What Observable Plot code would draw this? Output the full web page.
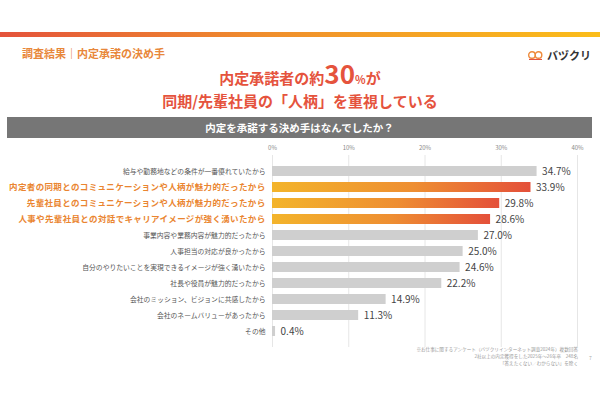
<!DOCTYPE html>
<html lang="ja">
<head>
<meta charset="utf-8">
<script src="https://cdn.jsdelivr.net/npm/d3@7"></script>
<script src="https://cdn.jsdelivr.net/npm/@observablehq/plot@0.6"></script>
<style>
  html, body { margin: 0; padding: 0; background: #fff; }
  body { width: 600px; height: 400px; overflow: hidden; font-family: "Noto Sans CJK JP", "Noto Sans", sans-serif; }
  #page { position: relative; width: 600px; height: 400px; }
  .abs { position: absolute; white-space: nowrap; }
  #topbar { left: 0; top: 32px; width: 600px; height: 5px; background: linear-gradient(90deg, #e4533b, #f08f2c 45%, #fbbd1a); }
  #section { left: 22px; top: 45px; font-size: 11px; font-weight: bold; color: #e8873a; }
  #logo { left: 527px; top: 47px; font-size: 11px; font-weight: bold; color: #333; display: flex; align-items: center; gap: 3px; }
  #title { left: 0; width: 600px; top: 63px; text-align: center; color: #e5533d; font-weight: bold; font-size: 15px; line-height: 22px; }
  #title .big { font-size: 26px; line-height: 20px; }
  #title .pct { font-size: 11px; }
  #banner { left: 7px; top: 117px; width: 585px; height: 21px; background: #767676; color: #fff; font-size: 10.5px; font-weight: bold; text-align: center; line-height: 21px; }
  #chart { left: 0; top: 138px; }
  #foot { right: 22px; top: 346px; text-align: right; font-size: 4.6px; line-height: 6.8px; color: #999; }
  #pageno { left: 589px; top: 354px; font-size: 5px; color: #aaa; }
</style>
</head>
<body>
<div id="page">
  <div id="topbar" class="abs"></div>
  <div id="section" class="abs"></div>
  <div id="logo" class="abs">
    <svg width="17" height="9" viewBox="0 0 17 9"><circle cx="5" cy="4" r="3.3" fill="none" stroke="#ee8a3a" stroke-width="1.4"/><circle cx="11.5" cy="4" r="3.3" fill="none" stroke="#ee8a3a" stroke-width="1.4"/><path d="M2 8.5 L15 8.5" stroke="#e5533d" stroke-width="1.2"/></svg>
    <span id="logotext"></span>
  </div>
  <div id="title" class="abs"></div>
  <div id="banner" class="abs"></div>
  <div id="chart" class="abs"></div>
  <div id="foot" class="abs"></div>
  <div id="pageno" class="abs">7</div>
</div>
<script>
// ---- data ----
const sectionTitle = "調査結果｜内定承諾の決め手";
const logoText = "バヅクリ";
const titleLine1 = ["内定承諾者の約", "30", "%", "が"];
const titleLine2 = "同期/先輩社員の「人柄」を重視している";
const question = "内定を承諾する決め手はなんでしたか？";
const labels = [
  "給与や勤務地などの条件が一番優れていたから",
  "内定者の同期とのコミュニケーションや人柄が魅力的だったから",
  "先輩社員とのコミュニケーションや人柄が魅力的だったから",
  "人事や先輩社員との対話でキャリアイメージが強く湧いたから",
  "事業内容や業務内容が魅力的だったから",
  "人事担当の対応が良かったから",
  "自分のやりたいことを実現できるイメージが強く湧いたから",
  "社長や役員が魅力的だったから",
  "会社のミッション、ビジョンに共感したから",
  "会社のネームバリューがあったから",
  "その他"
];
const values = [34.7, 33.9, 29.8, 28.6, 27.0, 25.0, 24.6, 22.2, 14.9, 11.3, 0.4];
const highlighted = [false, true, true, true, false, false, false, false, false, false, false];
const xTicks = [0, 10, 20, 30, 40];
const footnotes = [
  "※お仕事に関するアンケート（バヅクリインターネット調査2024年）複数回答",
  "2社以上の内定獲得をした2025年〜26年卒　248名",
  "「答えたくない／わからない」を除く"
];

// ---- header text ----
document.getElementById("section").textContent = sectionTitle;
document.getElementById("logotext").textContent = logoText;
document.getElementById("title").innerHTML =
  `${titleLine1[0]}<span class="big">${titleLine1[1]}</span><span class="pct">${titleLine1[2]}</span>${titleLine1[3]}<br>${titleLine2}`;
document.getElementById("banner").textContent = question;
document.getElementById("foot").innerHTML = footnotes.join("<br>");

// ---- chart ----
const data = labels.map((label, i) => ({label, value: values[i], hi: highlighted[i]}));
const hiData = data.filter(d => d.hi);
const loData = data.filter(d => !d.hi);

const chart = Plot.plot({
  width: 600,
  height: 214,
  marginLeft: 272,
  marginRight: 23,
  marginTop: 17,
  marginBottom: 5,
  style: {fontFamily: "'Noto Sans CJK JP', sans-serif", background: "transparent", overflow: "visible"},
  x: {domain: [0, 40], label: null},
  y: {domain: labels, axis: null, padding: 0.36},
  marks: [
    Plot.ruleX(xTicks, {stroke: "#e6e6e6", strokeWidth: 1}),
    Plot.axisX(xTicks, {anchor: "top", tickSize: 0, tickPadding: 6, tickFormat: d => d + "%", fontSize: 6, fill: "#888", label: null}),
    Plot.barX(loData, {x: "value", y: "label", fill: "#cfcfcf"}),
    Plot.barX(hiData, {x: "value", y: "label", fill: "url(#barGrad)"}),
    Plot.text(data, {x: "value", y: "label", text: d => d.value.toFixed(1) + "%", dx: 5, textAnchor: "start", fontSize: 10, fill: "#444"}),
    Plot.text(loData, {x: 0, y: "label", text: "label", dx: -7, textAnchor: "end", fontSize: 6.8, fill: "#555"}),
    Plot.text(hiData, {x: 0, y: "label", text: "label", dx: -7, textAnchor: "end", fontSize: 8.5, fontWeight: "bold", fill: "#ea8530"})
  ]
});

d3.select(chart).insert("defs", ":first-child").html(
  `<linearGradient id="barGrad" x1="0" x2="1" y1="0" y2="0">
     <stop offset="0%" stop-color="#f3b42b"/>
     <stop offset="55%" stop-color="#ee8e32"/>
     <stop offset="100%" stop-color="#e4503a"/>
   </linearGradient>`
);
// wider tracking for the highlighted labels, as in the reference
const textGroups = d3.select(chart).selectAll('g[aria-label="text"]').nodes();
d3.select(textGroups[textGroups.length - 1]).attr("letter-spacing", "0.35");

document.getElementById("chart").appendChild(chart);
</script>
</body>
</html>
